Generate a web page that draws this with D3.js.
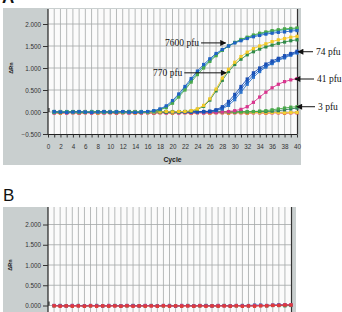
<!DOCTYPE html>
<html>
<head>
<meta charset="utf-8">
<script src="https://cdn.jsdelivr.net/npm/d3@7"></script>
<style>
  body { margin: 0; background: white; }
  svg { display: block; }
</style>
</head>
<body>
<svg></svg>
<script>
const w = 342;
const h = 312;

// cycles 1..40
const cycles = d3.range(1, 41);

// panel A amplification curves (delta Rn per cycle)
const a7600blue  = [0.01,0.00,-0.01,0.00,0.01,0.00,-0.01,0.00,0.01,0.00,0.00,0.01,0.00,-0.01,0.00,0.01,0.03,0.07,0.14,0.26,0.41,0.58,0.76,0.93,1.08,1.21,1.33,1.42,1.50,1.57,1.62,1.67,1.71,1.74,1.77,1.79,1.81,1.82,1.84,1.85];
const a7600green = [0.00,-0.01,0.00,0.01,0.00,-0.01,0.00,0.01,0.00,-0.01,0.00,0.00,0.01,0.00,-0.01,0.00,0.02,0.05,0.10,0.20,0.34,0.50,0.68,0.85,1.00,1.15,1.28,1.40,1.50,1.58,1.65,1.70,1.75,1.79,1.82,1.85,1.87,1.89,1.90,1.91];
const a7600teal  = [-0.01,0.00,0.01,0.00,-0.01,0.00,0.01,0.00,-0.01,0.00,0.01,0.00,-0.01,0.00,0.01,0.00,0.02,0.06,0.12,0.23,0.37,0.54,0.72,0.89,1.04,1.18,1.30,1.41,1.50,1.58,1.64,1.69,1.73,1.77,1.80,1.83,1.85,1.87,1.88,1.89];
const a770yellow = [0.00,0.01,0.00,-0.01,0.00,0.01,0.00,-0.01,0.00,0.01,0.00,-0.01,0.00,0.01,0.00,-0.01,0.00,0.00,0.01,0.00,0.01,0.01,0.03,0.07,0.15,0.30,0.52,0.77,0.97,1.13,1.26,1.36,1.44,1.50,1.55,1.60,1.64,1.67,1.70,1.72];
const a770green  = [0.01,0.00,-0.01,0.00,0.01,0.00,-0.01,0.00,0.01,0.00,-0.01,0.00,0.01,0.00,-0.01,0.00,0.01,0.00,0.00,0.01,0.00,0.01,0.02,0.06,0.13,0.27,0.48,0.72,0.92,1.08,1.20,1.30,1.37,1.43,1.48,1.52,1.56,1.59,1.62,1.64];
const a74blue1   = [0.00,0.01,0.00,-0.01,0.00,0.01,0.00,-0.01,0.00,0.01,0.00,-0.01,0.00,0.01,0.00,-0.01,0.00,0.01,0.00,-0.01,0.00,0.01,0.00,0.00,0.01,0.01,0.04,0.09,0.19,0.34,0.52,0.69,0.84,0.96,1.05,1.12,1.19,1.25,1.31,1.36];
const a74blue2   = [-0.01,0.00,0.01,0.00,-0.01,0.00,0.01,0.00,-0.01,0.00,0.01,0.00,-0.01,0.00,0.01,0.00,-0.01,0.00,0.01,0.00,-0.01,0.00,0.01,0.00,0.00,0.01,0.03,0.07,0.15,0.28,0.45,0.63,0.79,0.92,1.02,1.10,1.17,1.23,1.29,1.34];
const a74blue3   = [0.01,0.00,-0.01,0.00,0.01,0.00,-0.01,0.00,0.01,0.00,-0.01,0.00,0.01,0.00,-0.01,0.00,0.01,0.00,-0.01,0.00,0.01,0.00,0.00,0.01,0.01,0.02,0.05,0.12,0.24,0.40,0.58,0.75,0.89,1.00,1.09,1.16,1.22,1.28,1.33,1.38];
const a41magenta = [-0.02,-0.01,-0.02,-0.01,-0.02,-0.01,-0.02,-0.01,-0.02,-0.01,-0.02,-0.01,-0.02,-0.01,-0.02,-0.01,-0.02,-0.01,-0.02,-0.01,-0.02,-0.01,-0.02,-0.01,-0.02,-0.01,-0.01,0.00,0.01,0.03,0.06,0.12,0.22,0.34,0.45,0.55,0.63,0.69,0.73,0.76];
const a3green    = [0.00,0.01,0.00,-0.01,0.00,0.01,0.00,-0.01,0.00,0.01,0.00,-0.01,0.00,0.01,0.00,-0.01,0.00,0.01,0.00,-0.01,0.00,0.01,0.00,-0.01,0.00,0.01,0.00,0.00,0.01,0.00,0.00,0.01,0.01,0.02,0.03,0.05,0.07,0.09,0.11,0.12];
const a3dkgreen  = [0.01,0.00,0.00,0.01,0.00,0.00,0.01,0.00,0.00,0.01,0.00,0.00,0.01,0.00,0.00,0.01,0.00,0.00,0.01,0.00,0.00,0.01,0.00,0.00,0.01,0.00,0.00,0.01,0.00,0.00,0.01,0.00,0.01,0.01,0.01,0.02,0.03,0.05,0.07,0.09];
const aRed       = [-0.02,-0.03,-0.02,-0.02,-0.03,-0.02,-0.02,-0.03,-0.02,-0.02,-0.03,-0.02,-0.02,-0.03,-0.02,-0.02,-0.03,-0.02,-0.02,-0.03,-0.02,-0.02,-0.03,-0.02,-0.02,-0.03,-0.02,-0.02,-0.03,-0.02,-0.02,-0.03,-0.02,-0.02,-0.03,-0.02,-0.02,-0.03,-0.02,-0.02];
const aYellow    = [-0.01,-0.02,-0.01,-0.01,-0.02,-0.01,-0.01,-0.02,-0.01,-0.01,-0.02,-0.01,-0.01,-0.02,-0.01,-0.01,-0.02,-0.01,-0.01,-0.02,-0.01,-0.01,-0.02,-0.01,-0.01,-0.02,-0.01,-0.01,-0.02,-0.01,-0.01,-0.02,-0.01,-0.01,-0.02,-0.01,-0.01,-0.02,-0.01,-0.01];

// panel B: negative samples, all flat
const bRed     = [-0.01,-0.02,-0.01,-0.02,-0.01,-0.02,-0.01,-0.02,-0.01,-0.02,-0.01,-0.02,-0.01,-0.02,-0.01,-0.02,-0.01,-0.02,-0.01,-0.02,-0.01,-0.02,-0.01,-0.02,-0.01,-0.02,-0.01,-0.02,-0.01,-0.02,-0.01,-0.02,-0.01,-0.02,-0.01,-0.01,0.00,0.00,0.01,0.01];
const bMagenta = [0.00,-0.01,-0.01,0.00,-0.01,-0.01,0.00,-0.01,-0.01,0.00,-0.01,-0.01,0.00,-0.01,-0.01,0.00,-0.01,-0.01,0.00,-0.01,-0.01,0.00,-0.01,-0.01,0.00,-0.01,-0.01,0.00,-0.01,-0.01,0.00,-0.01,-0.01,0.00,0.00,0.00,0.01,0.01,0.02,0.02];
const bBlue    = [0.00,0.00,-0.01,0.00,0.00,-0.01,0.00,0.00,-0.01,0.00,0.00,-0.01,0.00,0.00,-0.01,0.00,0.00,-0.01,0.00,0.00,-0.02,0.00,0.00,-0.01,0.00,0.00,-0.01,0.00,0.00,-0.01,0.00,0.00,0.00,0.01,0.01,0.00,0.01,0.02,0.02,0.01];
const bGreen   = [-0.01,0.00,-0.01,-0.01,0.00,-0.01,-0.01,0.00,-0.01,-0.01,0.00,-0.01,-0.01,0.00,-0.01,-0.01,0.00,-0.01,-0.01,0.00,-0.01,-0.01,0.00,-0.01,-0.01,0.00,-0.01,-0.01,0.00,-0.01,-0.01,0.00,-0.01,0.00,0.00,-0.01,0.00,0.00,-0.01,0.00];

const seriesA = [
    {values: aRed, color: "#e0404a"},
    {values: aYellow, color: "#f0d030"},
    {values: a3dkgreen, color: "#2a7a5a"},
    {values: a3green, color: "#4aa84a"},
    {values: a41magenta, color: "#d8358e"},
    {values: a74blue2, color: "#2d74cc"},
    {values: a74blue1, color: "#1f5fc0"},
    {values: a74blue3, color: "#1a4fb4"},
    {values: a770green, color: "#2f8a48"},
    {values: a770yellow, color: "#f2c828"},
    {values: a7600teal, color: "#2aa0b0"},
    {values: a7600green, color: "#4aa84a"},
    {values: a7600blue, color: "#1f62c4"},
];
const seriesB = [
    {values: bGreen, color: "#3a9a50"},
    {values: bBlue, color: "#3a5fc0"},
    {values: bMagenta, color: "#c8407a"},
    {values: bRed, color: "#e03a3a"},
];

const labelsA = [
    {text: "7600 pfu", cycle: 28.7, value: 1.57, side: "left", tx: 165},
    {text: "770 pfu", cycle: 28.8, value: 0.89, side: "left", tx: 153},
    {text: "74 pfu", cycle: 40, value: 1.37, side: "right", tx: 316},
    {text: "41 pfu", cycle: 39.5, value: 0.75, side: "right", tx: 317},
    {text: "3 pfu", cycle: 39.8, value: 0.12, side: "right", tx: 318},
];

const yTicks = [-0.5, 0, 0.5, 1.0, 1.5, 2.0];
const xLabelTicks = d3.range(0, 41, 2);

const svg = d3.select("svg").attr("width", w).attr("height", h);

svg.append("defs").append("marker")
    .attr("id", "arrow")
    .attr("viewBox", "0 0 10 10")
    .attr("refX", 9).attr("refY", 5)
    .attr("markerWidth", 7).attr("markerHeight", 6)
    .attr("markerUnits", "userSpaceOnUse")
    .attr("orient", "auto")
    .append("path").attr("d", "M0,0L10,5L0,10Z").attr("fill", "#111");

function panel(cfg) {
    const g = svg.append("g");
    const x = d3.scaleLinear().domain([0, 40]).range([cfg.x0, cfg.x1]);
    const y = d3.scaleLinear().domain([0, 2]).range(cfg.yr);

    // gray frame
    g.append("rect")
        .attr("x", 3).attr("y", cfg.boxTop)
        .attr("width", cfg.boxRight - 3).attr("height", cfg.boxBottom - cfg.boxTop)
        .attr("fill", "#c9cfcf");
    g.append("rect")
        .attr("x", cfg.x0).attr("y", cfg.plotTop)
        .attr("width", cfg.x1 - cfg.x0).attr("height", cfg.plotBottom - cfg.plotTop)
        .attr("fill", "#fbfbfb");

    // grid
    g.append("g").selectAll("line")
        .data(d3.range(1, 40))
        .join("line")
        .attr("x1", d => x(d)).attr("x2", d => x(d))
        .attr("y1", cfg.plotTop).attr("y2", cfg.plotBottom)
        .attr("stroke", "#a4a8a8").attr("stroke-width", 0.8);
    g.append("g").selectAll("line")
        .data(yTicks.filter(d => y(d) > cfg.plotTop && y(d) < cfg.plotBottom - 1))
        .join("line")
        .attr("x1", cfg.x0).attr("x2", cfg.x1)
        .attr("y1", d => y(d)).attr("y2", d => y(d))
        .attr("stroke", "#a4a8a8").attr("stroke-width", 0.8);

    // y axis
    const ya = g.append("g")
        .attr("transform", `translate(${cfg.x0},0)`)
        .call(d3.axisLeft(y).tickValues(yTicks.filter(d => y(d) < cfg.plotBottom + 1)).tickSize(5).tickPadding(2).tickFormat(d3.format(".3f")));
    ya.select(".domain").attr("d", `M0,${cfg.plotTop}V${cfg.plotBottom}`).attr("stroke", "#222").attr("stroke-width", 1.2);
    ya.selectAll(".tick line").attr("stroke", "#333");
    ya.selectAll(".tick text").attr("font-family", "Liberation Sans, Arial, sans-serif").attr("font-size", 6.3).attr("fill", "#333");

    // right border
    g.append("line")
        .attr("x1", cfg.x1 + 0.5).attr("x2", cfg.x1 + 0.5)
        .attr("y1", cfg.plotTop).attr("y2", cfg.plotBottom)
        .attr("stroke", "#333").attr("stroke-width", 1.2);

    if (cfg.xAxis) {
        const xa = g.append("g")
            .attr("transform", `translate(0,${cfg.plotBottom})`)
            .call(d3.axisBottom(x).tickValues(d3.range(0, 41)).tickSize(3).tickPadding(7)
                .tickFormat(d => xLabelTicks.includes(d) ? d : ""));
        xa.select(".domain").attr("d", `M${cfg.x0},0H${cfg.x1}`).attr("stroke", "#222").attr("stroke-width", 1.2);
        xa.selectAll(".tick line").attr("stroke", "#333");
        xa.selectAll(".tick text").attr("font-family", "Liberation Sans, Arial, sans-serif").attr("font-size", 6.3).attr("fill", "#333");

        g.append("text")
            .attr("x", (cfg.x0 + cfg.x1) / 2).attr("y", cfg.plotBottom + 27)
            .attr("text-anchor", "middle")
            .attr("font-family", "Liberation Sans, Arial, sans-serif")
            .attr("font-weight", "bold").attr("font-size", 6.8).attr("fill", "#222")
            .text("Cycle");
    }

    g.append("text")
        .attr("transform", `translate(${cfg.yTitleX},${y(1)}) rotate(-90)`)
        .attr("text-anchor", "middle")
        .attr("font-family", "Liberation Sans, Arial, sans-serif")
        .attr("font-weight", "bold").attr("font-size", 5.5).attr("fill", "#222")
        .text("ΔRn");

    // zero threshold mark
    g.append("line")
        .attr("x1", cfg.x0 + 1).attr("x2", cfg.x0 + 1)
        .attr("y1", y(0) - 4).attr("y2", y(0))
        .attr("stroke", "#111").attr("stroke-width", 1);

    // data
    const line = d3.line().x((d, i) => x(cycles[i])).y(d => y(d));
    cfg.series.forEach(s => {
        g.append("path")
            .attr("d", line(s.values))
            .attr("fill", "none").attr("stroke", s.color).attr("stroke-width", 0.9);
        g.append("g").selectAll("rect")
            .data(s.values)
            .join("rect")
            .attr("x", (d, i) => x(cycles[i]) - 1.6)
            .attr("y", d => y(d) - 1.6)
            .attr("width", 3.2).attr("height", 3.2)
            .attr("fill", s.color);
    });

    return {x, y};
}

const A = panel({
    x0: 48, x1: 297, yr: [112, 24],
    boxTop: 8, boxBottom: 165, boxRight: 301,
    plotTop: 9, plotBottom: 134.5,
    xAxis: true, yTitleX: 13, series: seriesA,
});

const B = panel({
    x0: 48, x1: 291, yr: [305.5, 224.5],
    boxTop: 207, boxBottom: 313, boxRight: 296,
    plotTop: 207, plotBottom: 313,
    xAxis: false, yTitleX: 12, series: seriesB,
});

// annotations panel A
labelsA.forEach(d => {
    const px = A.x(d.cycle);
    const py = A.y(d.value);
    let x1;
    const t = svg.append("text")
        .attr("x", d.tx).attr("y", py + 3.2)
        .attr("font-family", "Liberation Serif, Times New Roman, serif")
        .attr("font-size", 9.5).attr("fill", "#111")
        .text(d.text);
    if (d.side === "left") {
        x1 = d.tx + t.node().getComputedTextLength() + 2;
    } else {
        x1 = d.tx - 3;
    }
    svg.append("line")
        .attr("x1", x1).attr("y1", py)
        .attr("x2", px + (d.side === "left" ? -1 : 1)).attr("y2", py)
        .attr("stroke", "#111").attr("stroke-width", 1)
        .attr("marker-end", "url(#arrow)");
});

// panel letters
svg.append("text").attr("x", 2).attr("y", 2.5)
    .attr("font-family", "Liberation Sans, Arial, sans-serif")
    .attr("font-weight", "bold").attr("font-size", 17).attr("fill", "#111")
    .text("A");
svg.append("text").attr("x", 3).attr("y", 201)
    .attr("font-family", "Liberation Sans, Arial, sans-serif")
    .attr("font-size", 17).attr("fill", "#111")
    .text("B");
</script>
</body>
</html>
